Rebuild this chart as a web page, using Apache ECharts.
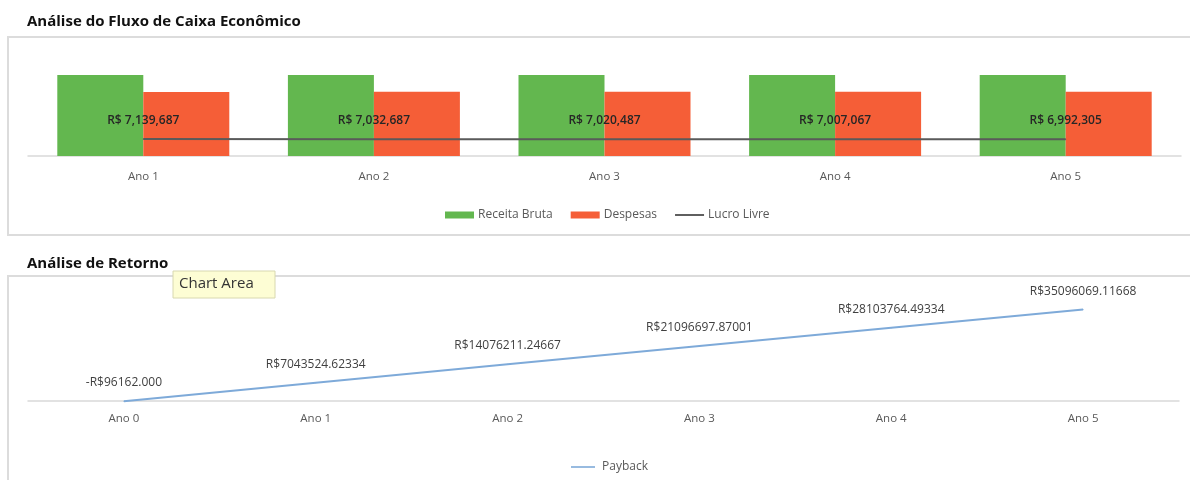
<!DOCTYPE html>
<html>
<head>
<meta charset="utf-8">
<script src="https://cdn.jsdelivr.net/npm/echarts@6/dist/echarts.min.js"></script>
<style>
  html, body { margin: 0; padding: 0; background: #fff; }
</style>
</head>
<body>
<!-- um único canvas com os dois gráficos -->
<div id="main" style="width: 1190px;height:480px;"></div>
<script>
    // dados
    var anosFluxo = ['Ano 1', 'Ano 2', 'Ano 3', 'Ano 4', 'Ano 5'];
    var receitaBruta = [34000000, 34000000, 34000000, 34000000, 34000000];
    var despesas = [26900000, 26950000, 26980000, 26990000, 27000000];
    var lucroLivre = [7139687, 7032687, 7020487, 7007067, 6992305];

    var anosRetorno = ['Ano 0', 'Ano 1', 'Ano 2', 'Ano 3', 'Ano 4', 'Ano 5'];
    var payback = [-96162.000, 7043524.62334, 14076211.24667, 21096697.87001, 28103764.49334, 35096069.11668];
    var paybackLabels = ['-R$96162.000', 'R$7043524.62334', 'R$14076211.24667', 'R$21096697.87001', 'R$28103764.49334', 'R$35096069.11668'];

    var fonte = '"Open Sans", sans-serif';
    var cinzaTexto = '#595959';

    var myChart = echarts.init(document.getElementById('main'));
    var options = {
        animation: false,
        textStyle: { fontFamily: fonte },
        title: [
            {
                text: 'Análise do Fluxo de Caixa Econômico',
                left: 22, top: 9,
                textStyle: { fontSize: 15, fontWeight: 'bold', color: '#111', fontFamily: fonte }
            },
            {
                text: 'Análise de Retorno',
                left: 22, top: 251,
                textStyle: { fontSize: 15, fontWeight: 'bold', color: '#111', fontFamily: fonte }
            }
        ],
        graphic: [
            {
                type: 'rect', z: -10,
                shape: { x: 8, y: 37, width: 1200, height: 198 },
                style: { fill: '#fff', stroke: '#dcdcdc', lineWidth: 2 }
            },
            {
                type: 'rect', z: -10,
                shape: { x: 8, y: 276, width: 1200, height: 230 },
                style: { fill: '#fff', stroke: '#dcdcdc', lineWidth: 2 }
            },
            {
                type: 'group', z: 100,
                children: [
                    {
                        type: 'rect',
                        shape: { x: 173, y: 271, width: 102, height: 27 },
                        style: { fill: '#fdfdd4', stroke: '#d8d8b0', lineWidth: 1 }
                    },
                    {
                        type: 'text',
                        x: 179, y: 284,
                        style: { text: 'Chart Area', fontSize: 15, fill: '#333', fontFamily: fonte, textVerticalAlign: 'middle' }
                    }
                ]
            }
        ],
        legend: [
            {
                left: 440, top: 204,
                itemWidth: 29, itemHeight: 7, itemGap: 18,
                textStyle: { color: cinzaTexto, fontSize: 12, fontFamily: fonte, padding: [0, 0, 0, -1] },
                data: [
                    { name: 'Receita Bruta', icon: 'rect' },
                    { name: 'Despesas', icon: 'rect' },
                    { name: 'Lucro Livre', icon: 'path://M0,0 L30,0 L30,2 L0,2 Z' }
                ]
            },
            {
                left: 566, top: 456,
                itemWidth: 24, itemHeight: 7,
                textStyle: { color: cinzaTexto, fontSize: 12, fontFamily: fonte, padding: [0, 0, 0, 2] },
                data: [{ name: 'Payback', icon: 'path://M0,0 L30,0 L30,2 L0,2 Z' }]
            }
        ],
        grid: [
            { left: 28, right: 9, top: 37, bottom: 324 },
            { left: 28, right: 11, top: 276, bottom: 79 }
        ],
        xAxis: [
            {
                type: 'category', gridIndex: 0, data: anosFluxo,
                axisTick: { show: false },
                axisLine: { lineStyle: { color: '#d9d9d9', width: 1.5 } },
                axisLabel: { color: cinzaTexto, fontSize: 11.5, margin: 15 }
            },
            {
                type: 'category', gridIndex: 1, data: anosRetorno,
                axisTick: { show: false },
                axisLine: { lineStyle: { color: '#d9d9d9', width: 1.5 } },
                axisLabel: { color: cinzaTexto, fontSize: 11.5, margin: 12 }
            }
        ],
        yAxis: [
            {
                type: 'value', gridIndex: 0, min: 0, max: 50000000,
                show: false, splitLine: { show: false }
            },
            {
                type: 'value', gridIndex: 1, min: 0, max: 48000000,
                show: false, splitLine: { show: false }
            }
        ],
        series: [
            {
                name: 'Receita Bruta', type: 'bar', xAxisIndex: 0, yAxisIndex: 0,
                barWidth: 86, barGap: '0%',
                itemStyle: { color: '#63b74f' },
                data: receitaBruta
            },
            {
                name: 'Despesas', type: 'bar', xAxisIndex: 0, yAxisIndex: 0,
                barWidth: 86, barGap: '0%',
                itemStyle: { color: '#f55e37' },
                data: despesas
            },
            {
                name: 'Lucro Livre', type: 'line', xAxisIndex: 0, yAxisIndex: 0,
                symbol: 'circle', symbolSize: 1, showSymbol: true,
                itemStyle: { color: '#5a5a5a' },
                lineStyle: { color: '#5a5a5a', width: 2 },
                z: 5,
                label: {
                    show: true, position: 'top', distance: 12,
                    fontSize: 12, fontWeight: 600, color: '#262626',
                    formatter: function (p) { return 'R$ ' + p.value.toLocaleString('en-US'); }
                },
                data: lucroLivre
            },
            {
                name: 'Payback', type: 'line', xAxisIndex: 1, yAxisIndex: 1,
                symbol: 'circle', symbolSize: 1, showSymbol: true, clip: false,
                itemStyle: { color: '#7eaad9' },
                lineStyle: { color: '#7eaad9', width: 2 },
                label: {
                    show: true, position: 'top', distance: 12,
                    fontSize: 12, color: '#404040',
                    formatter: function (p) { return paybackLabels[p.dataIndex]; }
                },
                data: payback
            }
        ]
    };
    myChart.setOption(options);
    window.onresize = function () {
        myChart.resize();
    };
</script>
</body>
</html>
